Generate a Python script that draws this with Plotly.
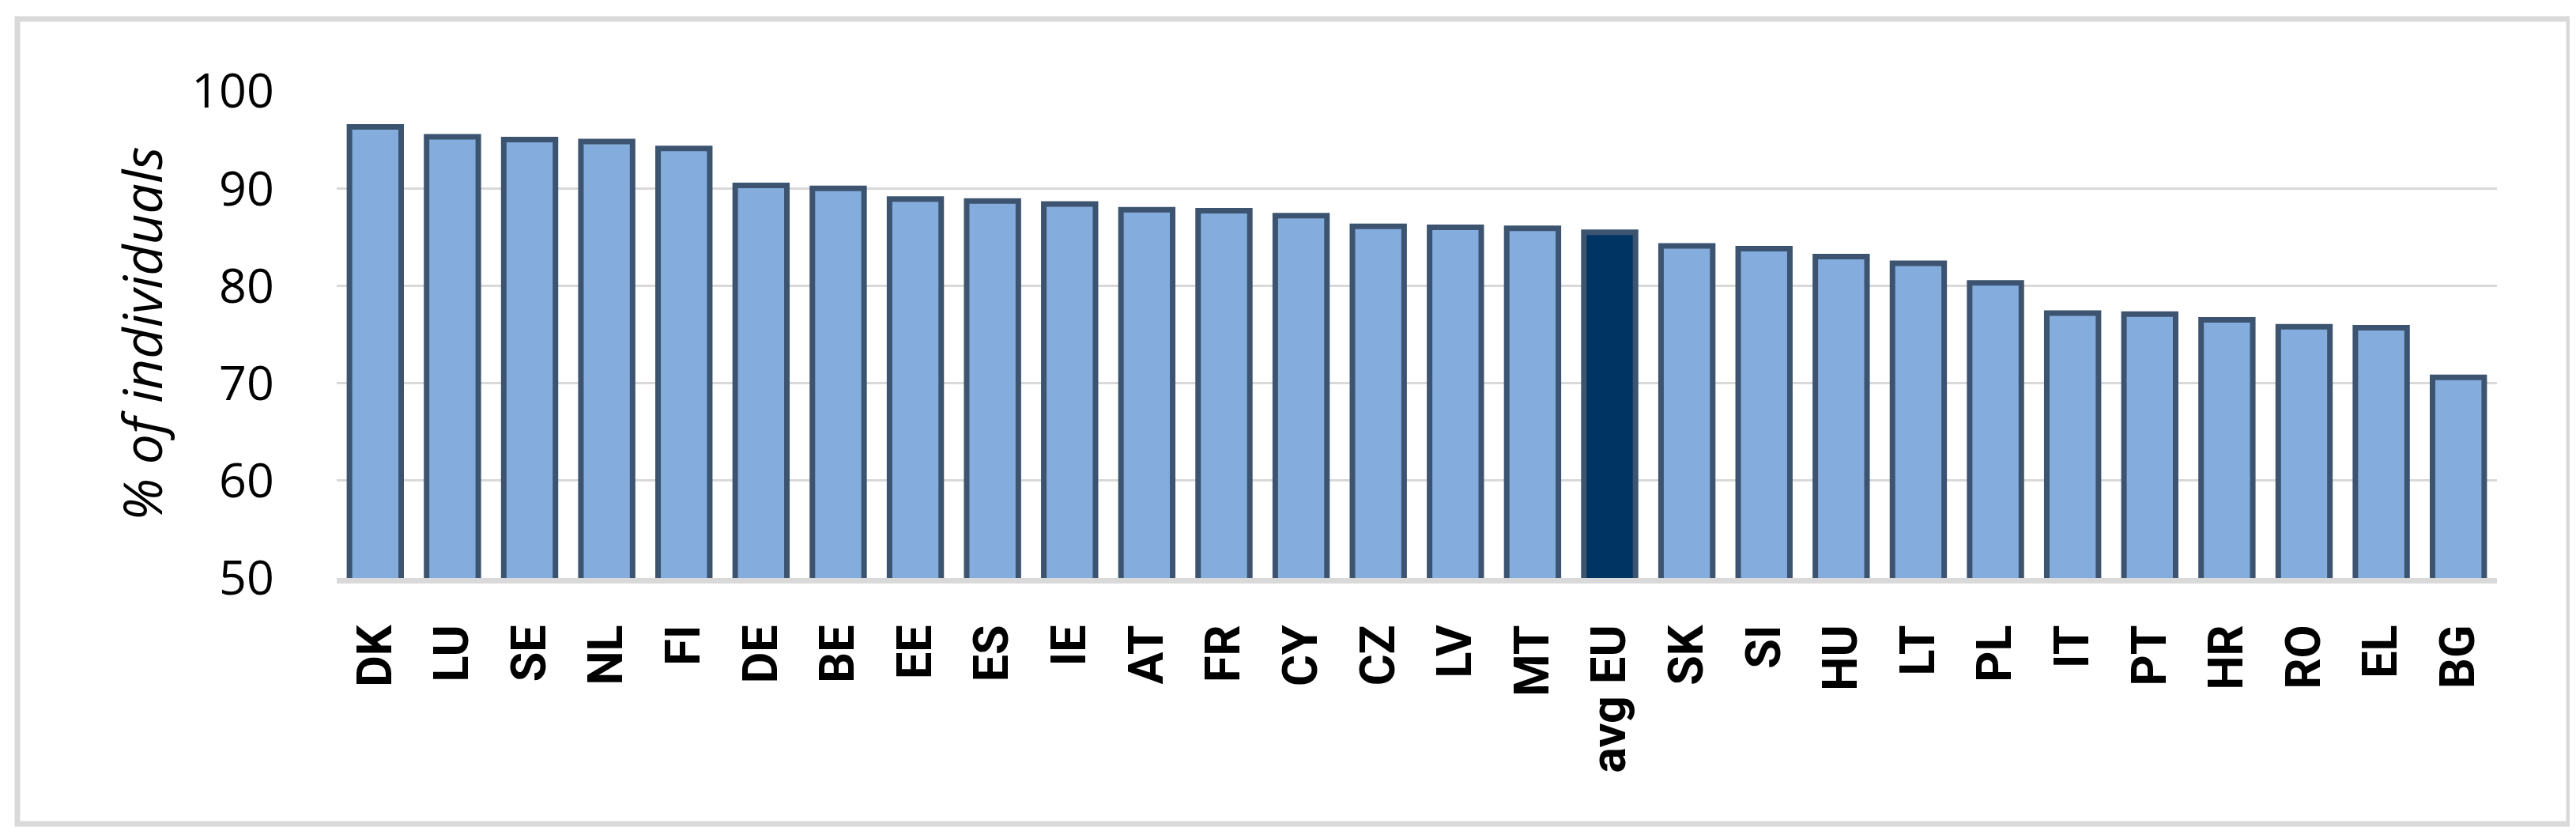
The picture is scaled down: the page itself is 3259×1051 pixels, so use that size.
import plotly.graph_objects as go

# countries, sorted as in the source chart
countries = ["DK", "LU", "SE", "NL", "FI", "DE", "BE", "EE", "ES", "IE",
             "AT", "FR", "CY", "CZ", "LV", "MT", "avg EU", "SK", "SI", "HU",
             "LT", "PL", "IT", "PT", "HR", "RO", "EL", "BG"]
share = [96.3, 95.3, 95.0, 94.8, 94.1, 90.3, 90.0, 88.9, 88.7, 88.4,
         87.8, 87.7, 87.2, 86.1, 86.0, 85.9, 85.5, 84.1, 83.8, 83.0,
         82.3, 80.3, 77.2, 77.1, 76.5, 75.8, 75.7, 70.6]
y_ticks = [50, 60, 70, 80, 90, 100]

W, H = 3259, 1051
L, R, T, B = 418, 108, 107, 328

LIGHT = "#84acdd"
DARK = "#003462"
EDGE = "#3c5470"
GRID = "#d9d9d9"

colors = [DARK if c == "avg EU" else LIGHT for c in countries]

fig = go.Figure(go.Bar(
    x=countries,
    y=share,
    marker=dict(color=colors, line=dict(color=EDGE, width=7)),
    width=0.67,
))

# chart border, given in pixels and turned into paper coordinates
pw, ph = W - L - R, H - T - B
def px_x(v):
    return (v - L) / pw
def px_y(v):
    return (H - B - v) / ph

fig.add_shape(type="rect", xref="paper", yref="paper",
              x0=px_x(14), x1=px_x(3242), y0=px_y(1034), y1=px_y(16),
              line=dict(color=GRID, width=7), layer="below")

fig.add_annotation(text="% of individuals", xref="paper", yref="paper",
                   x=px_x(170), y=px_y(414), xanchor="center", yanchor="middle",
                   textangle=-90, showarrow=False,
                   font=dict(family="Open Sans", size=68, color="black", style="italic"))

fig.update_layout(
    width=W, height=H,
    margin=dict(l=L, r=R, t=T, b=B),
    paper_bgcolor="white",
    plot_bgcolor="white",
    showlegend=False,
    xaxis=dict(
        tickangle=-90,
        tickfont=dict(family="Roboto", size=61, color="black", weight="bold"),
        showline=True, linecolor=GRID, linewidth=7,
        ticks="outside", ticklen=28, tickcolor="rgba(0,0,0,0)",
        showgrid=False, automargin=False,
    ),
    yaxis=dict(
        range=[50, 100],
        tickvals=y_ticks,
        tickfont=dict(family="Open Sans", size=61, color="black"),
        showgrid=True, gridcolor=GRID, gridwidth=3,
        zeroline=False, automargin=False,
        ticks="outside", ticklen=66, tickcolor="rgba(0,0,0,0)",
    ),
)

fig.write_html("out.html")
